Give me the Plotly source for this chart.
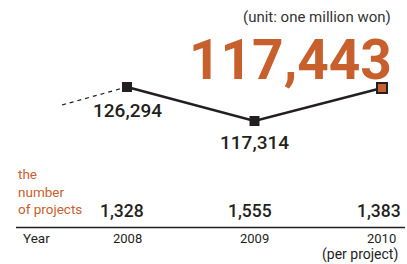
import plotly.graph_objects as go

# ---- data ----
years = [2008, 2009, 2010]
year_labels = ["2008", "2009", "2010"]
year_note = "(per project)"
amount_labels = ["126,294", "117,314", "117,443"]   # unit: one million won
num_projects = ["1,328", "1,555", "1,383"]
projects_title = ["the", "number", "of projects"]
# relative heights of the illustrative trend line as drawn in the picture
trend_level = [100, 80, 99.4]
lead_in_year = 2007.49
lead_in_level = 89.4

ORANGE = "#C8602E"
DARK = "#231F20"
W, H = 407, 264
FONT = "Roboto, Liberation Sans, sans-serif"

fig = go.Figure()

# dashed lead-in towards 2008
fig.add_trace(go.Scatter(
    x=[lead_in_year, years[0] - 0.04],
    y=[lead_in_level, trend_level[0] - 0.8],
    mode="lines", line=dict(color=DARK, width=1.2, dash="4px,4px"),
    hoverinfo="skip", showlegend=False))

# trend line
fig.add_trace(go.Scatter(
    x=years, y=trend_level, mode="lines+markers",
    line=dict(color=DARK, width=2.5),
    marker=dict(symbol="square", size=10,
                color=[DARK, DARK, ORANGE],
                line=dict(color=DARK, width=[0, 0, 2])),
    showlegend=False))

def px_x(p):
    return p / W

def px_y(p):
    return 1 - p / H

ann = []
# unit
ann.append(dict(x=px_x(393), y=px_y(17), text="(unit: one million won)",
                xanchor="right", yanchor="middle",
                font=dict(size=15, color="#333333", family=FONT)))
# big number
ann.append(dict(x=px_x(394), y=px_y(60), text="<b>" + amount_labels[2] + "</b>",
                xanchor="right", yanchor="middle",
                font=dict(size=55, color=ORANGE, family=FONT)))
# value labels
ann.append(dict(x=years[0], xref="x", y=px_y(110), text=amount_labels[0],
                xanchor="center", yanchor="middle",
                font=dict(size=19, color=DARK, family=FONT, weight=500)))
ann.append(dict(x=years[1], xref="x", y=px_y(142), text=amount_labels[1],
                xanchor="center", yanchor="middle",
                font=dict(size=19, color=DARK, family=FONT, weight=500)))
# number of projects label
ann.append(dict(x=px_x(16), y=px_y(219), text="<br>".join(projects_title),
                xanchor="left", yanchor="bottom", align="left",
                font=dict(size=13.5, color=ORANGE, family=FONT)))
# project counts
right_px = [146, 274, 403]
for i in range(3):
    ann.append(dict(x=px_x(right_px[i]), y=px_y(211), text=num_projects[i],
                    xanchor="right", yanchor="middle",
                    font=dict(size=17.5, color=DARK, family=FONT, weight=500)))
# year row
ann.append(dict(x=px_x(21), y=px_y(238), text="Year", xanchor="left", yanchor="middle",
                font=dict(size=13.5, color=DARK, family=FONT)))
ann.append(dict(x=years[0], xref="x", y=px_y(238), text=year_labels[0],
                xanchor="center", yanchor="middle",
                font=dict(size=13, color=DARK, family=FONT)))
ann.append(dict(x=years[1], xref="x", y=px_y(238), text=year_labels[1],
                xanchor="center", yanchor="middle",
                font=dict(size=13, color=DARK, family=FONT)))
ann.append(dict(x=px_x(398), y=px_y(238), text=year_labels[2],
                xanchor="right", yanchor="middle",
                font=dict(size=13, color=DARK, family=FONT)))
ann.append(dict(x=px_x(400), y=px_y(254), text=year_note,
                xanchor="right", yanchor="middle",
                font=dict(size=14, color=DARK, family=FONT)))
for a in ann:
    a.setdefault("xref", "paper")
    a["yref"] = "paper"
    a["showarrow"] = False

fig.update_layout(
    width=W, height=H,
    margin=dict(l=0, r=0, t=0, b=0),
    paper_bgcolor="white", plot_bgcolor="white",
    xaxis=dict(range=[2008 - 127 / 127.5, 2008 + 280 / 127.5], visible=False, fixedrange=True),
    yaxis=dict(range=[100 - 177 / 1.7, 100 + 87 / 1.7], visible=False, fixedrange=True),
    annotations=ann,
    shapes=[dict(type="line", xref="paper", yref="paper",
                 x0=px_x(16), x1=px_x(405), y0=px_y(227.5), y1=px_y(227.5),
                 line=dict(color=DARK, width=1.5))],
)

fig.write_html("out.html", config={"displayModeBar": False},
               post_script="document.body.style.margin='0';")
